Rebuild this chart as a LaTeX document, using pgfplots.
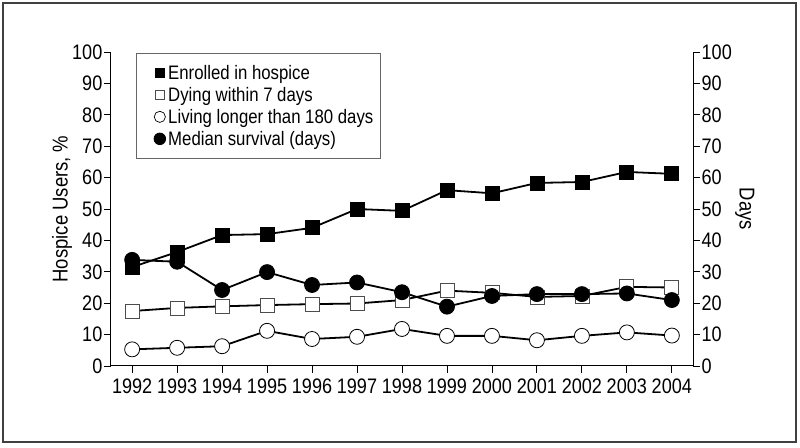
\documentclass[border=0pt]{standalone}
\usepackage{fontspec}
\setmainfont{Liberation Sans}[FakeStretch=0.86]
\usepackage{pgfplots}
\pgfplotsset{compat=1.18}

\pgfplotstableread{
year enrolled dying living median
1992 31.5 17.5 5.3 33.8
1993 36.3 18.5 5.8 33.2
1994 41.7 19.0 6.3 24.2
1995 42.0 19.4 11.2 29.9
1996 44.0 19.7 8.6 25.8
1997 50.0 19.9 9.3 26.6
1998 49.4 21.0 11.8 23.5
1999 56.0 24.0 9.6 18.9
2000 55.0 23.3 9.6 22.3
2001 58.3 22.0 8.2 22.9
2002 58.6 22.3 9.6 22.9
2003 61.8 25.2 10.7 23.1
2004 61.2 25.0 9.7 21.0
}\datatable

\begin{document}
\begin{tikzpicture}[x=1pt,y=1pt]
\useasboundingbox (0,0) rectangle (800,447);
\draw[line width=1.5pt, black!75] (3,5) rectangle (796,444);
\pgfplotsset{
  myaxis/.style={
    at={(111pt,81pt)}, anchor=south west,
    scale only axis, width=582pt, height=314pt,
    xmin=1991.53, xmax=2004.47, ymin=0, ymax=100,
    ytick={0,10,...,100},
    tick align=outside,
    major tick length=7pt,
    tick style={black, line width=0.8pt},
    axis line style={black, line width=1pt},
    /pgf/number format/assume math mode=true,
    /pgf/number format/1000 sep={},
    tick label style={font=\fontsize{21}{22}\selectfont, inner sep=1.5pt},
  }
}
\begin{axis}[myaxis,
  axis x line*=bottom, axis y line*=left,
  xtick={1992,...,2004},
  xticklabel style={yshift=-4pt},
  ylabel={\fontsize{21.5}{22}\selectfont Hospice Users, \%},
  ylabel style={at={(axis description cs:-0.0842,0.5)}, anchor=center},
  legend style={at={(axis description cs:0.043,0.997)}, anchor=north west,
    draw=black!60, line width=0.8pt, font=\fontsize{19.5}{22}\selectfont,
    inner xsep=7pt, inner ysep=8.5pt, row sep=0pt, column sep=0pt,
    nodes={inner xsep=0pt, inner ysep=2.5pt, text height=15pt, text depth=2pt}},
  legend cell align=left,
  legend image code/.code={\path (-16pt,0pt) (8pt,0pt); \draw[#1] plot coordinates {(0pt,0pt)};},
]
\addlegendimage{only marks, mark=square*, mark size=4.5pt, mark options={fill=black, draw=black}}
\addlegendentry{Enrolled in hospice}
\addlegendimage{only marks, mark=square*, mark size=4.8pt, mark options={fill=white, draw=black!70, line width=0.7pt}}
\addlegendentry{Dying within 7 days}
\addlegendimage{only marks, mark=*, mark size=5.6pt, mark options={fill=white, draw=black, line width=0.7pt}}
\addlegendentry{Living longer than 180 days}
\addlegendimage{only marks, mark=*, mark size=5.8pt, mark options={fill=black, draw=black}}
\addlegendentry{Median survival (days)}

\addplot[forget plot, black, line width=1.8pt, mark=square*, mark size=7pt, mark options={fill=black, draw=black, line width=0.8pt}] table[x=year, y=enrolled] {\datatable};
\addplot[forget plot, black, line width=1.8pt, mark=square*, mark size=7pt, mark options={fill=white, draw=black!70, line width=0.8pt}] table[x=year, y=dying] {\datatable};
\addplot[forget plot, black, line width=1.8pt, mark=*, mark size=7.5pt, mark options={fill=white, draw=black, line width=0.8pt}] table[x=year, y=living] {\datatable};
\addplot[forget plot, black, line width=1.8pt, mark=*, mark size=7.5pt, mark options={fill=black, draw=black, line width=0.8pt}] table[x=year, y=median] {\datatable};
\end{axis}
\begin{axis}[myaxis,
  axis x line=none, axis y line*=right,
  ylabel={\fontsize{21.5}{22}\selectfont Days},
  ylabel style={at={(axis description cs:1.089,0.5)}, anchor=center, rotate=-180},
]
\end{axis}
\end{tikzpicture}
\end{document}
